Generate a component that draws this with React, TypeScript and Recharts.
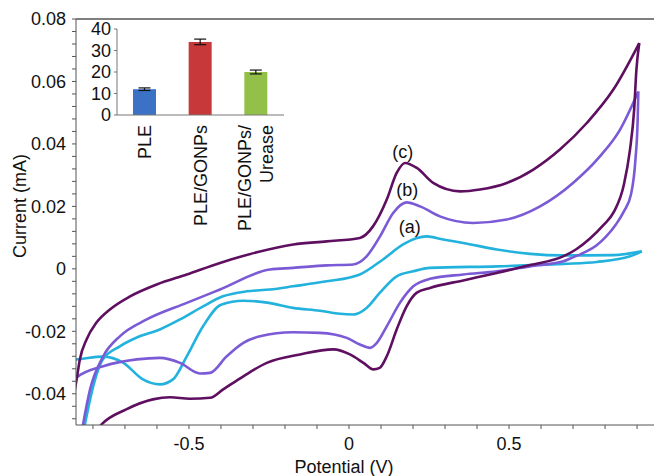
import {
  LineChart,
  Line,
  XAxis,
  YAxis,
  ReferenceLine,
  ReferenceDot,
  BarChart,
  Bar,
  Cell,
  ErrorBar,
} from "recharts";

// cyclic voltammograms, potential (V) vs current (mA)
// each list runs along the anodic branch up to the switching point, then back along the cathodic branch
const aPotential = [-0.87, -0.825, -0.809, -0.769, -0.716, -0.663, -0.591, -0.528, -0.456, -0.394, -0.32, -0.247, -0.175, -0.07, 0.034, 0.106, 0.169, 0.21, 0.243, 0.294, 0.357, 0.462, 0.566, 0.67, 0.826, 0.915, 0.878, 0.774, 0.67, 0.462, 0.253, 0.2, 0.149, 0.096, 0.055, 0.013, -0.028, -0.091, -0.175, -0.25, -0.33, -0.4, -0.456, -0.507, -0.55, -0.591, -0.644, -0.706, -0.769, -0.851, -0.9];
const aCurrent = [-0.075, -0.0498, -0.0418, -0.029, -0.0248, -0.022, -0.0194, -0.0162, -0.012, -0.0088, -0.0072, -0.0066, -0.0056, -0.004, -0.0018, 0.003, 0.0078, 0.0098, 0.0104, 0.0094, 0.0083, 0.0062, 0.0048, 0.0043, 0.0044, 0.0056, 0.004, 0.0022, 0.0016, 0.0008, 0.0003, -0.0008, -0.0024, -0.0077, -0.0125, -0.0146, -0.0144, -0.0134, -0.0125, -0.0109, -0.0102, -0.0115, -0.0184, -0.028, -0.0354, -0.037, -0.0354, -0.03, -0.0281, -0.029, -0.0292];
const aSwitch = 25;

const bPotential = [-0.87, -0.831, -0.809, -0.768, -0.716, -0.632, -0.507, -0.403, -0.247, -0.175, -0.07, 0.013, 0.055, 0.097, 0.138, 0.18, 0.222, 0.284, 0.388, 0.493, 0.597, 0.7, 0.784, 0.847, 0.904, 0.902, 0.895, 0.881, 0.859, 0.834, 0.803, 0.772, 0.734, 0.691, 0.67, 0.566, 0.462, 0.357, 0.253, 0.201, 0.159, 0.118, 0.087, 0.066, 0.034, -0.007, -0.091, -0.175, -0.278, -0.33, -0.382, -0.434, -0.466, -0.528, -0.591, -0.663, -0.768, -0.852, -0.9];
const bCurrent = [-0.075, -0.0498, -0.0386, -0.028, -0.0216, -0.0162, -0.0109, -0.0066, -0.0002, 0.0003, 0.0011, 0.0014, 0.004, 0.0104, 0.0179, 0.0213, 0.02, 0.0168, 0.0147, 0.0158, 0.02, 0.0275, 0.036, 0.0446, 0.0568, 0.0478, 0.035, 0.0238, 0.0184, 0.0142, 0.0103, 0.0074, 0.0052, 0.0033, 0.0024, 0.0008, -0.0008, -0.0018, -0.0032, -0.0056, -0.0109, -0.0184, -0.0237, -0.0253, -0.0242, -0.0221, -0.0205, -0.0203, -0.0216, -0.0237, -0.028, -0.0333, -0.0335, -0.0301, -0.0285, -0.029, -0.0312, -0.0349, -0.043];
const bSwitch = 24;

const cPotential = [-0.9, -0.851, -0.841, -0.82, -0.789, -0.747, -0.684, -0.601, -0.507, -0.403, -0.288, -0.174, -0.07, 0.034, 0.075, 0.118, 0.149, 0.175, 0.212, 0.263, 0.347, 0.409, 0.493, 0.576, 0.659, 0.743, 0.826, 0.907, 0.898, 0.891, 0.878, 0.859, 0.828, 0.794, 0.753, 0.709, 0.669, 0.566, 0.462, 0.357, 0.253, 0.212, 0.18, 0.149, 0.118, 0.096, 0.076, 0.045, 0.003, -0.049, -0.153, -0.257, -0.33, -0.393, -0.434, -0.497, -0.559, -0.613, -0.696, -0.773, -0.84, -0.9];
const cCurrent = [-0.062, -0.0354, -0.029, -0.0226, -0.0172, -0.013, -0.0088, -0.005, -0.0018, 0.0019, 0.0053, 0.0078, 0.0088, 0.0099, 0.0136, 0.0222, 0.0307, 0.0339, 0.0323, 0.0275, 0.0248, 0.0254, 0.0275, 0.0318, 0.0382, 0.0467, 0.0574, 0.0723, 0.0637, 0.051, 0.0382, 0.027, 0.0183, 0.0139, 0.0097, 0.0062, 0.004, 0.0012, -0.0013, -0.0037, -0.0061, -0.0076, -0.012, -0.0194, -0.028, -0.0317, -0.0322, -0.0301, -0.0274, -0.0258, -0.0274, -0.0301, -0.0344, -0.0386, -0.0413, -0.0416, -0.0411, -0.0418, -0.045, -0.0498, -0.06, -0.062];
const cSwitch = 27;

// inset bar chart
const groups = ["PLE", "PLE/GONPs", "PLE/GONPs/Urease"];
const groupLines = [["PLE"], ["PLE/GONPs"], ["PLE/GONPs/", "Urease"]];
const charge = [12, 34, 20];
const chargeErr = [0.6, 1.3, 0.9];
const barColors = ["#3b72c6", "#c7383b", "#93c048"];

const xMajor = [-0.5, 0, 0.5];
const yMajor = [0.08, 0.06, 0.04, 0.02, 0, -0.02, -0.04];
const insetTicks = [0, 10, 20, 30, 40];

const xTicks = Array.from({ length: 18 }, (_, i) => Math.round((-0.8 + i * 0.1) * 10) / 10);
const yTicks = Array.from({ length: 33 }, (_, i) => Math.round((0.08 - i * 0.004) * 1000) / 1000);

const toPoints = (xs: number[], ys: number[]) => xs.map((x, i) => ({ x, y: ys[i] }));
const branches = (xs: number[], ys: number[], k: number) => {
  const pts = toPoints(xs, ys);
  return [pts.slice(0, k + 1), pts.slice(k)];
};

const curves = [
  { key: "a", color: "#22b2dd", parts: branches(aPotential, aCurrent, aSwitch) },
  { key: "b", color: "#7b5ad6", parts: branches(bPotential, bCurrent, bSwitch) },
  { key: "c", color: "#5f0f60", parts: branches(cPotential, cCurrent, cSwitch) },
];

const barData = groups.map((g, i) => ({ name: g, value: charge[i], err: chargeErr[i] }));

const font = '"Liberation Sans", Arial, Helvetica, sans-serif';

const fmtX = (v: number) => (xMajor.some((m) => Math.abs(m - v) < 1e-6) ? String(v) : "");
const fmtY = (v: number) => {
  if (!yMajor.some((m) => Math.abs(m - v) < 1e-6)) return "";
  return v === 0 ? "0" : v.toFixed(2);
};

function GroupTick(props: any) {
  const { x, y, payload } = props;
  const idx = groups.indexOf(payload.value);
  const lines = groupLines[idx] || [payload.value];
  const gap = 22;
  return (
    <g transform={`translate(${x},${y})`}>
      <text transform="rotate(-90)" textAnchor="end" fontSize={18} fontFamily={font} fill="#111">
        {lines.map((l, i) => (
          <tspan key={i} x={0} y={(i - (lines.length - 1) / 2) * gap} dominantBaseline="central">
            {l}
          </tspan>
        ))}
      </text>
    </g>
  );
}

export default function App() {
  return (
    <div style={{ position: "absolute", left: 0, top: 0, width: 654, height: 476, background: "#fff", fontFamily: font }}>
      <div style={{ position: "absolute", left: 0, top: 0 }}>
        <LineChart width={654} height={476} margin={{ top: 19, right: 0, bottom: 21, left: 0 }}>
          <XAxis
            type="number"
            dataKey="x"
            domain={[-0.853, 0.953]}
            allowDataOverflow
            ticks={xTicks}
            interval={0}
            tickFormatter={fmtX}
            tickSize={4}
            tickMargin={8}
            height={30}
            stroke="#555"
            tick={{ fill: "#111", fontSize: 18, fontFamily: font }}
          />
          <YAxis
            type="number"
            dataKey="y"
            domain={[-0.05, 0.08]}
            allowDataOverflow
            ticks={yTicks}
            interval={0}
            tickFormatter={fmtY}
            tickSize={4}
            tickMargin={6}
            width={76}
            stroke="#555"
            tick={{ fill: "#111", fontSize: 18, fontFamily: font }}
          />
          <ReferenceLine y={0.08} stroke="#555" strokeWidth={1.5} />
          {curves.map((c) =>
            c.parts.map((p, j) => (
              <Line
                key={`${c.key}${j}`}
                data={p}
                dataKey="y"
                type="monotoneX"
                stroke={c.color}
                strokeWidth={2.6}
                dot={false}
                activeDot={false}
                isAnimationActive={false}
              />
            ))
          )}
          <ReferenceDot x={0.168} y={0.0376} r={0} fill="none" stroke="none" label={{ value: "(c)", position: "center", fontSize: 18, fill: "#111", fontFamily: font }} />
          <ReferenceDot x={0.182} y={0.0254} r={0} fill="none" stroke="none" label={{ value: "(b)", position: "center", fontSize: 18, fill: "#111", fontFamily: font }} />
          <ReferenceDot x={0.19} y={0.0136} r={0} fill="none" stroke="none" label={{ value: "(a)", position: "center", fontSize: 18, fill: "#111", fontFamily: font }} />
        </LineChart>
      </div>

      <div style={{ position: "absolute", left: 0, top: 0 }}>
        <BarChart width={300} height={240} data={barData} margin={{ top: 29, right: 16, bottom: 0, left: 0 }}>
          <XAxis
            xAxisId="a"
            type="number"
            domain={[0, 3]}
            ticks={[0, 1, 2, 3]}
            tick={false}
            tickSize={4}
            height={10}
            stroke="#777"
          />
          <XAxis
            xAxisId="b"
            dataKey="name"
            type="category"
            axisLine={false}
            tickLine={false}
            tickSize={0}
            tickMargin={0}
            height={115}
            interval={0}
            tick={<GroupTick />}
          />
          <YAxis
            domain={[0, 40]}
            ticks={insetTicks}
            interval={0}
            tickSize={3}
            tickMargin={3}
            width={117}
            stroke="#777"
            tick={{ fill: "#111", fontSize: 18, fontFamily: font }}
          />
          <Bar xAxisId="b" dataKey="value" barSize={23} isAnimationActive={false}>
            {barData.map((d, i) => (
              <Cell key={d.name} fill={barColors[i]} />
            ))}
            <ErrorBar dataKey="err" width={6} strokeWidth={1.2} stroke="#111" direction="y" />
          </Bar>
        </BarChart>
      </div>

      <div
        style={{
          position: "absolute",
          left: 20,
          top: 206,
          transform: "translate(-50%, -50%) rotate(-90deg)",
          whiteSpace: "nowrap",
          fontSize: 18,
          color: "#111",
        }}
      >
        Current (mA)
      </div>
      <div
        style={{
          position: "absolute",
          left: 344,
          top: 467,
          transform: "translate(-50%, -50%)",
          whiteSpace: "nowrap",
          fontSize: 18,
          color: "#111",
        }}
      >
        Potential (V)
      </div>
    </div>
  );
}
